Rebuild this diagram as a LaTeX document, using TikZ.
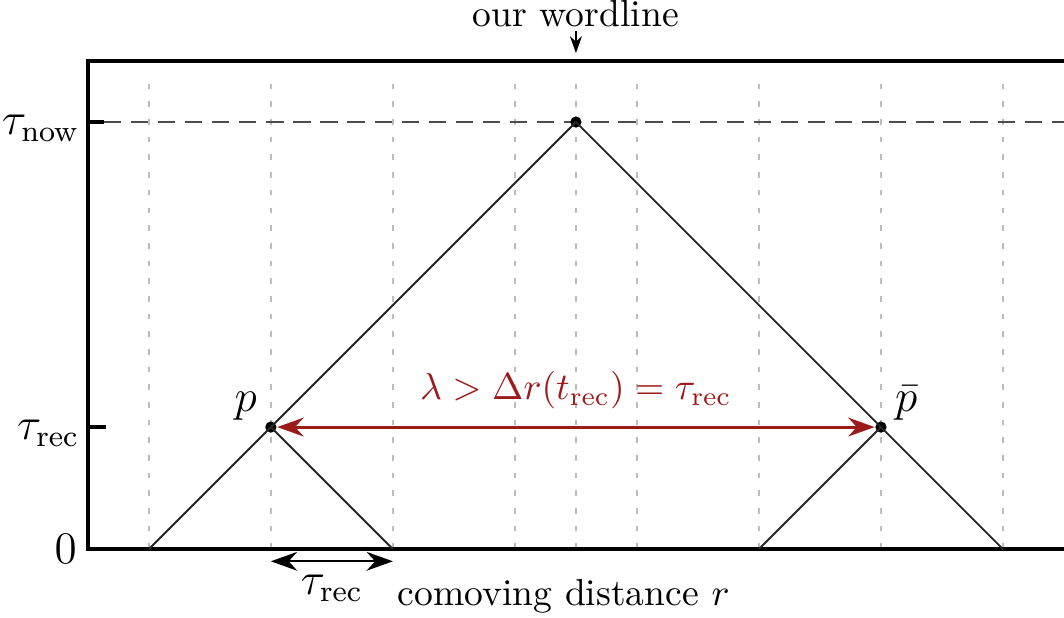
\documentclass[tikz,border=0pt]{standalone}
\usepackage{amsmath}
\usepackage{tikz}
\usetikzlibrary{positioning,arrows.meta,calc}
\definecolor{horizonRed}{HTML}{9B1B1B}
\definecolor{gridGray}{HTML}{BDBDBD}

\begin{document}
\begin{tikzpicture}[x=0.57cm, y=0.57cm, >=Stealth,
    frameline/.style={line width=1pt},
    coneline/.style={line width=0.5pt, black!85},
    gridline/.style={gridGray, line width=0.45pt, dash pattern=on 1.5pt off 3.2pt},
    ticklabel/.style={anchor=east, inner sep=0pt, font=\large},
    event/.style={circle, fill=black, inner sep=0pt, minimum size=3pt}]
  \useasboundingbox (-9.44,-1.115) rectangle (8,9);
  % Comoving grid, the frame and the two time ticks.
  \foreach \x in {-7,-5,-3,-1,0,1,3,5,7} {
    \coordinate (g\x) at (\x,0);
    \draw[gridline] (g\x) -- (\x,7.82);
  }
  \draw[frameline] (8,8) -- (-8,8) -- (-8,0) -- (8,0);
  \draw[frameline] (-8,7) -- (-7.74,7);
  \draw[frameline] (-8,2) -- (-7.7,2);
  \draw[black!70, line width=0.6pt, dash pattern=on 4.6pt off 2.6pt] (-7.74,7) -- (8,7);
  \node[ticklabel] (tnow) at (-8.13,6.9) {$\tau_{\text{now}}$};
  \node[ticklabel] (trec) at (-8.13,1.9) {$\tau_{\text{rec}}$};
  \node[ticklabel] (tzero) at (-8.17,0) {$0$};
  % Past light cone of the observer and of the two points p, pbar.
  \node[event] (now) at (0,7) {};
  \node[event] (p) at (-5,2) {};
  \node[event] (pbar) at (5,2) {};
  \draw[coneline] (g-7) -- (now.center) -- (g7);
  \draw[coneline] (p.center) -- (g-3);
  \draw[coneline] (g3) -- (pbar.center);
  \node[above left=-3pt and -1pt of p, font=\large] (plabel) {$p$};
  \node[above right=-3pt and -1pt of pbar, font=\large] (pbarlabel) {$\bar{p}$};
  \coordinate (wordfoot) at (0,8.49);
  \coordinate (wordtip) at (0,8.13);
  \node[anchor=south, inner sep=0pt] (wordline) at (0,8.55) {our wordline};
  \draw[->, >={Stealth[length=4.5pt, width=3.2pt]}] (wordfoot) -- (wordtip);
  % Separation at recombination, larger than the horizon size.
  \draw[<->, horizonRed, line width=0.8pt, >={Stealth[length=7pt, width=5pt]}] (p) -- (pbar)
    node[midway, above=1pt, text=horizonRed] (gap) {$\lambda > \Delta r(t_{\text{rec}}) = \tau_{\text{rec}}$};
  \coordinate (hl) at (-5,-0.2);
  \coordinate (hr) at (-3,-0.2);
  \draw[<->, line width=0.6pt, >={Stealth[length=7pt, width=5pt]}] (hl) -- (hr)
    node[midway, below=0pt, font=\large] (hlabel) {$\tau_{\text{rec}}$};
  \node (xlabel) at (-0.2,-0.78) {comoving distance $r$};
\end{tikzpicture}
\end{document}
